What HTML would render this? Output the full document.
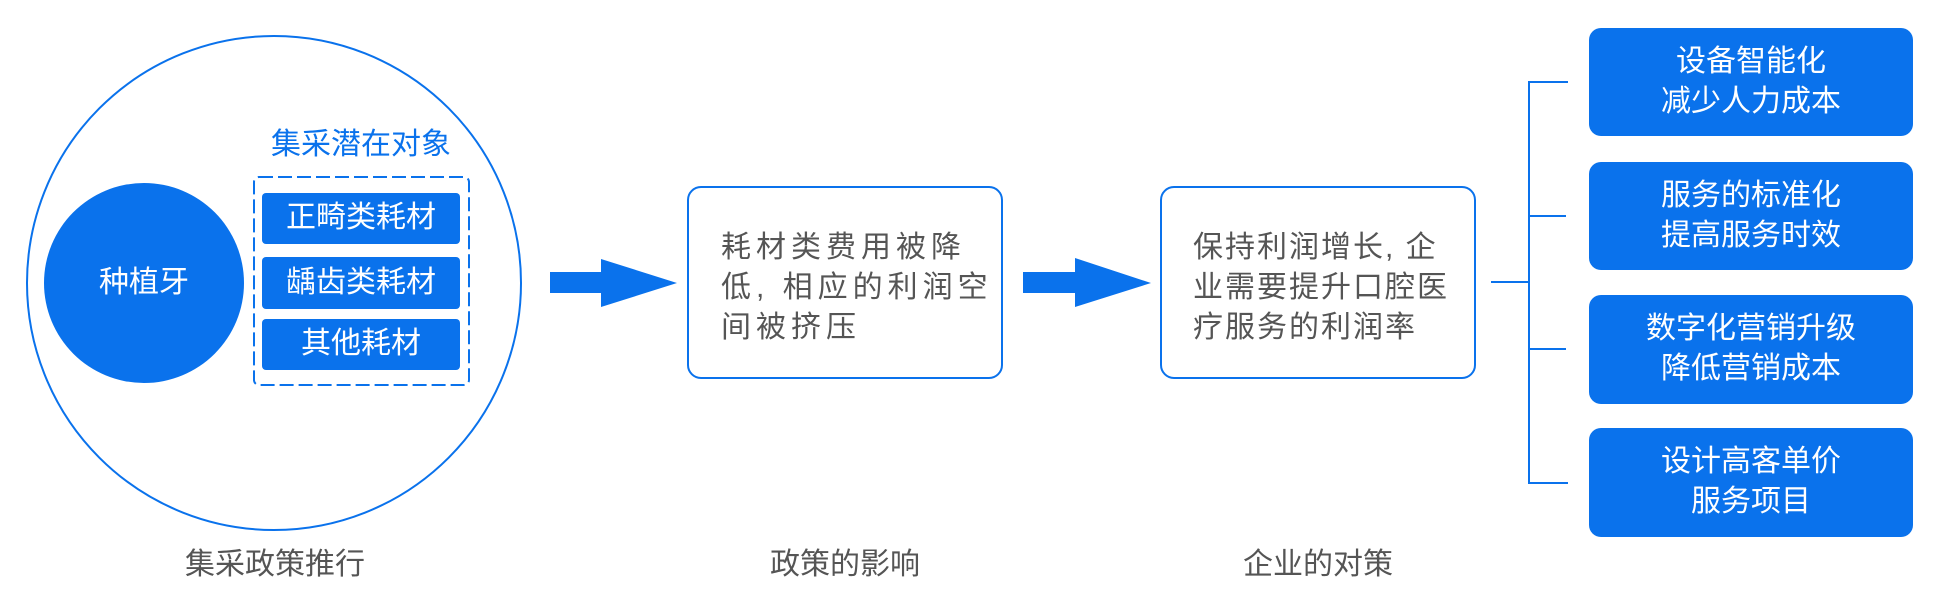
<!DOCTYPE html>
<html><head><meta charset="utf-8"><style>
body{margin:0;width:1938px;height:615px;background:#fff;position:relative;overflow:hidden;font-family:"Liberation Sans","Noto Sans CJK SC",sans-serif;}
.t{position:absolute;white-space:nowrap;font-size:30px;line-height:40px;}
.w{color:#fff;text-align:center;}
.g{color:#555;}
.b{color:#0a72ec;}
</style></head><body>
<svg width="1938" height="615" style="position:absolute;left:0;top:0">
<g fill="none" stroke="#0a72ec" stroke-width="2">
<circle cx="274" cy="283" r="247"/>
<rect x="254" y="177" width="215" height="208" rx="5" stroke-dasharray="14,5"/>
<rect x="688" y="187" width="314" height="191" rx="13"/>
<rect x="1161" y="187" width="314" height="191" rx="13"/>
<path d="M1491 282H1529M1568 82H1529V483H1568M1529 216H1566M1529 349H1566"/>
</g>
<g fill="#0a72ec">
<circle cx="144" cy="283" r="100"/>
<rect x="262" y="193" width="198" height="51" rx="4"/>
<rect x="262" y="257" width="198" height="52" rx="4"/>
<rect x="262" y="319" width="198" height="51" rx="4"/>
<polygon points="550,272 601,272 601,259 677,283 601,307 601,293 550,293"/>
<polygon points="1023,272 1075,272 1075,258 1151,283 1075,307 1075,293 1023,293"/>
<rect x="1589" y="28" width="324" height="108" rx="12"/>
<rect x="1589" y="162" width="324" height="108" rx="12"/>
<rect x="1589" y="295" width="324" height="109" rx="12"/>
<rect x="1589" y="428" width="324" height="109" rx="12"/>
</g>
</svg>
<div class="t w" style="left:44px;top:263px;width:200px">种植牙</div>
<div class="t b" style="left:262px;top:125px;width:198px;text-align:center">集采潜在对象</div>
<div class="t w" style="left:262px;top:198px;width:198px">正畸类耗材</div>
<div class="t w" style="left:262px;top:263px;width:198px">龋齿类耗材</div>
<div class="t w" style="left:262px;top:324px;width:198px">其他耗材</div>
<div class="t g" style="left:120px;top:545px;width:310px;text-align:center">集采政策推行</div>
<div class="t g" style="left:721px;top:228px;letter-spacing:5px;">耗材类费用被降<br>低, 相应的利润空<br>间被挤压</div>
<div class="t g" style="left:1193px;top:228px;letter-spacing:2px;">保持利润增长, 企<br>业需要提升口腔医<br>疗服务的利润率</div>
<div class="t g" style="left:690px;top:545px;width:310px;text-align:center">政策的影响</div>
<div class="t g" style="left:1161px;top:545px;width:314px;text-align:center">企业的对策</div>
<div class="t w" style="left:1589px;top:42px;width:324px">设备智能化<br>减少人力成本</div>
<div class="t w" style="left:1589px;top:176px;width:324px">服务的标准化<br>提高服务时效</div>
<div class="t w" style="left:1589px;top:309px;width:324px">数字化营销升级<br>降低营销成本</div>
<div class="t w" style="left:1589px;top:442px;width:324px">设计高客单价<br>服务项目</div>
</body></html>
